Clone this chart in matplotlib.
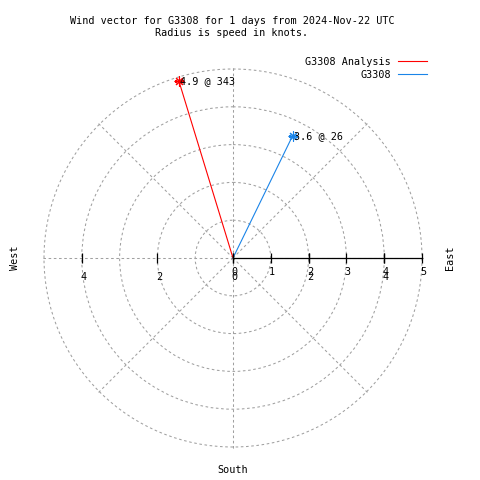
import numpy as np
import matplotlib
matplotlib.use("Agg")
import matplotlib.pyplot as plt

# ---- data ----
series_names = ["G3308 Analysis", "G3308"]
speeds = [4.9, 3.6]          # knots
directions = [343, 26]       # degrees (compass)
colors = ["#ff0000", "#1a84e8"]
r_ticks = [0, 1, 2, 3, 4, 5]
r_ticks2 = [-4, -2, 0, 2, 4]
r_grid = [1, 2, 3, 4, 5]
title = "Wind vector for G3308 for 1 days from 2024-Nov-22 UTC\nRadius is speed in knots."

W = H = 480
FONT = "DejaVu Sans Mono"
FS = 7.3
GRID = "#a0a0a0"
RMAX = 5.08

fig = plt.figure(figsize=(4.8, 4.8), dpi=100)
fig.patch.set_facecolor("white")

cx, cy, rad = 233, 258, 189 * RMAX / 5
rect = [(cx - rad) / W, (H - cy - rad) / H, 2 * rad / W, 2 * rad / H]

ax = fig.add_axes(rect, projection="polar")
ax.set_theta_zero_location("N")
ax.set_theta_direction(-1)
ax.set_ylim(0, RMAX)
ax.set_yticks(r_grid)
ax.set_yticklabels([])
ax.set_xticks(np.deg2rad(np.arange(0, 360, 45)))
ax.set_xticklabels([])
ax.grid(True, color=GRID, linestyle=(0, (2.5, 2.5)), linewidth=0.75)
ax.spines["polar"].set_visible(False)
ax.set_facecolor("none")

handles = []
for name, s, d, c in zip(series_names, speeds, directions, colors):
    th = np.deg2rad(d)
    ln, = ax.plot([th, th], [0, s], color=c, lw=0.8, label=name, zorder=3)
    ax.plot([th], [s], linestyle="none", marker=(8, 2, 0), markersize=7,
            markeredgewidth=0.8, color=c, zorder=4)
    ax.annotate(f"{s} @ {d}", xy=(th, s), xytext=(0.8, 0), textcoords="offset points",
                ha="left", va="center", fontsize=FS, family=FONT, color="black", zorder=5)
    handles.append(ln)

# cartesian overlay for the radial axis
ax2 = fig.add_axes(rect, facecolor="none")
ax2.set_xlim(-RMAX, RMAX)
ax2.set_ylim(-RMAX, RMAX)
ax2.axis("off")
ax2.plot([r_ticks[0], r_ticks[-1]], [0, 0], color="black", lw=0.9)
ax2.plot(r_ticks, [0] * len(r_ticks), linestyle="none", marker="|", markersize=6.5,
         markeredgewidth=0.9, color="black")
ax2.plot(r_ticks2, [0] * len(r_ticks2), linestyle="none", marker="|", markersize=6.5,
         markeredgewidth=0.9, color="black")
for t in r_ticks:
    ax2.annotate(str(t), xy=(t, 0), xytext=(1.1, -10), textcoords="offset points",
                 ha="center", va="center", fontsize=FS, family=FONT)
for t in r_ticks2:
    ax2.annotate(str(abs(t)), xy=(t, 0), xytext=(1.3, -13.5), textcoords="offset points",
                 ha="center", va="center", fontsize=FS, family=FONT)

# titles and compass labels
fig.text(232 / W, 1 - 15.5 / H, title, ha="center", va="top", fontsize=FS, family=FONT,
         linespacing=1.3)
fig.text(15 / W, 1 - 258 / H, "West", rotation=90, ha="center", va="center",
         fontsize=FS, family=FONT)
fig.text(450 / W, 1 - 258 / H, "East", rotation=90, ha="center", va="center",
         fontsize=FS, family=FONT)
fig.text(233 / W, 1 - 470 / H, "South", ha="center", va="center", fontsize=FS, family=FONT)

leg = fig.legend(handles=handles, loc="upper right",
                 bbox_to_anchor=(427 / W, 1 - 57 / H), frameon=False, markerfirst=False,
                 borderpad=0, borderaxespad=0, handlelength=2.85, handletextpad=0.7,
                 labelspacing=0.3, prop={"family": FONT, "size": FS})

fig.savefig("out.png", dpi=100)
